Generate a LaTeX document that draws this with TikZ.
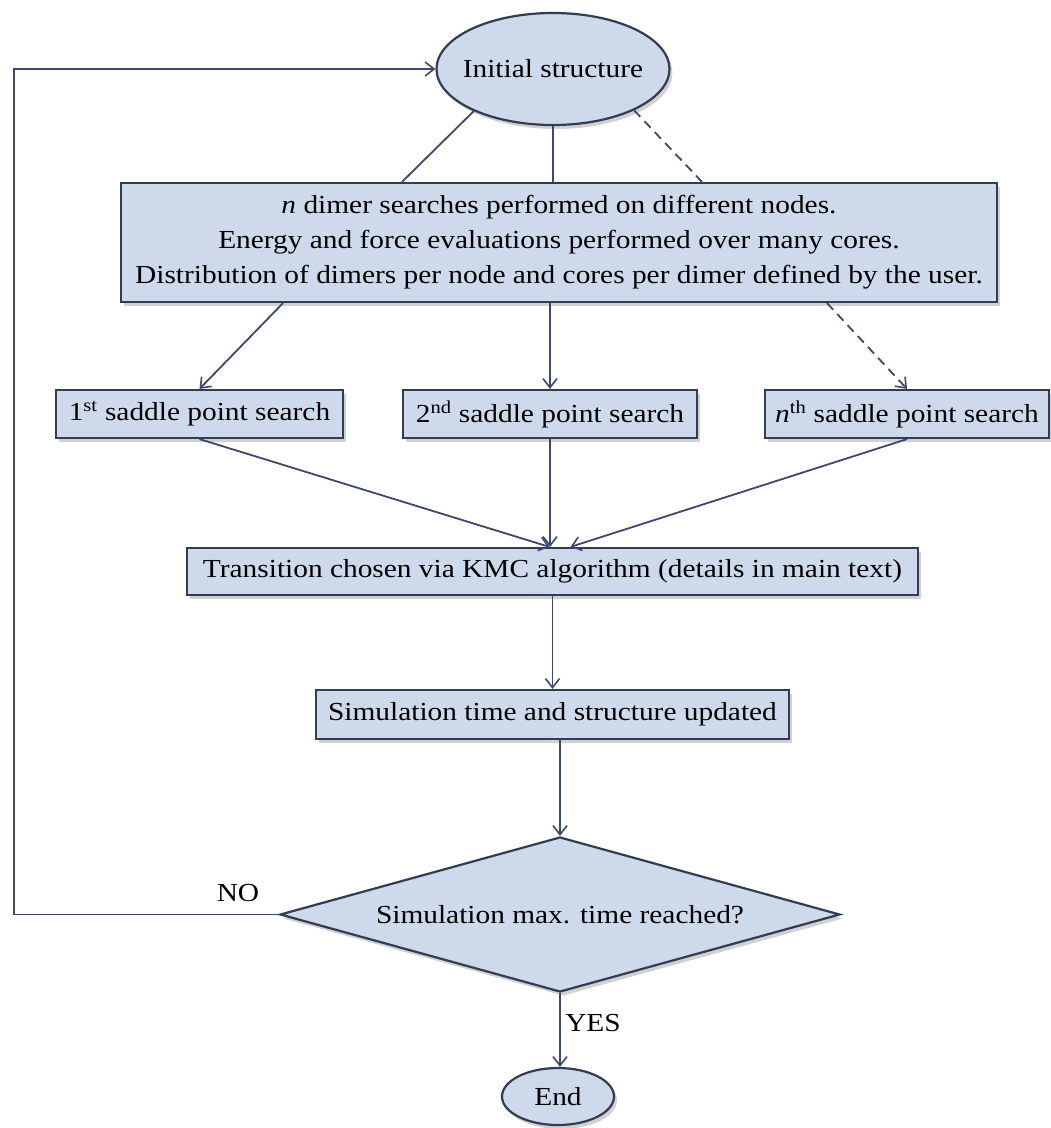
\documentclass[tikz,border=0pt]{standalone}
\usepackage{fontspec}
\setmainfont{Liberation Serif}[FakeStretch=1.13]
\usetikzlibrary{shapes.geometric,arrows.meta,shadows,calc}
\definecolor{boxfill}{RGB}{206,218,236}
\definecolor{boxline}{RGB}{50,60,82}
\definecolor{arrowc}{RGB}{60,72,108}
\begin{document}
\begin{tikzpicture}[x=1pt,y=-1pt,
  font=\fontsize{26}{35}\selectfont,
  base/.style={draw=boxline, line width=2.2pt, fill=boxfill,
    drop shadow={shadow xshift=3pt, shadow yshift=-4pt, opacity=0.3, fill=black!60}},
  procbox/.style={base, rectangle, inner sep=0pt, align=center},
  oval/.style={base, ellipse, inner sep=0pt},
  decision/.style={base, diamond, inner sep=0pt, aspect=3.6},
  conn/.style={draw=arrowc, line width=1.8pt},
  arr/.style={conn, -{Straight Barb[length=9pt,width=14pt,line width=1.6pt]}},
  dashline/.style={dash pattern=on 9pt off 6pt},
  lbl/.style={inner sep=0pt, text=black}
]
\useasboundingbox (0,0) rectangle (1051,1128);

\node[oval, inner xsep=-8pt, minimum width=233pt, minimum height=112pt] (init) at (553,69) {Initial structure};
\node[procbox, minimum width=876pt, minimum height=119pt] (big) at (559,242.5)
  {\textit{n} dimer searches performed on different nodes.\\
   Energy and force evaluations performed over many cores.\\
   Distribution of dimers per node and cores per dimer defined by the user.};
\node[procbox, minimum width=287pt, minimum height=48pt] (s1) at (199.5,414) {1\textsuperscript{st} saddle point search};
\node[procbox, minimum width=294pt, minimum height=48pt] (s2) at (550,414) {2\textsuperscript{nd} saddle point search};
\node[procbox, minimum width=284pt, minimum height=48pt] (sn) at (907,414) {\textit{n}\textsuperscript{th} saddle point search};
\node[procbox, minimum width=731pt, minimum height=47pt] (tr) at (552.5,571.5) {Transition chosen via KMC algorithm (details in main text)};
\node[procbox, minimum width=473pt, minimum height=49pt] (sim) at (552.5,714.5) {Simulation time and structure updated};
\node[decision, minimum width=560pt, minimum height=155pt] (dec) at (560,914.5) {Simulation max. time reached?};
\node[oval, minimum width=112pt, minimum height=57pt] (endn) at (558,1096.5) {End};

\node[lbl] (no) at (238,893) {NO};
\node[lbl] (yes) at (593,1023) {YES};

\coordinate (loop) at (14,0);

% ellipse to big box
\draw[conn] (init.208) -- ([xshift=-157pt]big.north);
\draw[conn] (init.south) -- (init.south |- big.north);
\draw[conn, dashline] (init.333) -- ([xshift=143pt]big.north);

% big box to saddle searches
\draw[arr] ([xshift=-276pt]big.south) -- (s1.north);
\draw[arr] (s2.north |- big.south) -- (s2.north);
\draw[arr, dashline] ([xshift=268pt]big.south) -- (sn.north);

% saddle searches to transition
\draw[arr] (s1.south) -- ([xshift=-3pt]tr.north);
\draw[arr] (s2.south) -- (s2.south |- tr.north);
\draw[arr] (sn.south) -- ([xshift=18pt]tr.north);

\draw[arr] (tr.south) -- (sim.north);
\draw[arr] (sim.south -| dec.north) -- (dec.north);
\draw[arr] (dec.south) -- (dec.south |- endn.north);

% loop back
\draw[arr] (dec.west) -| (loop |- init.west) -- (init.west);
\end{tikzpicture}
\end{document}
